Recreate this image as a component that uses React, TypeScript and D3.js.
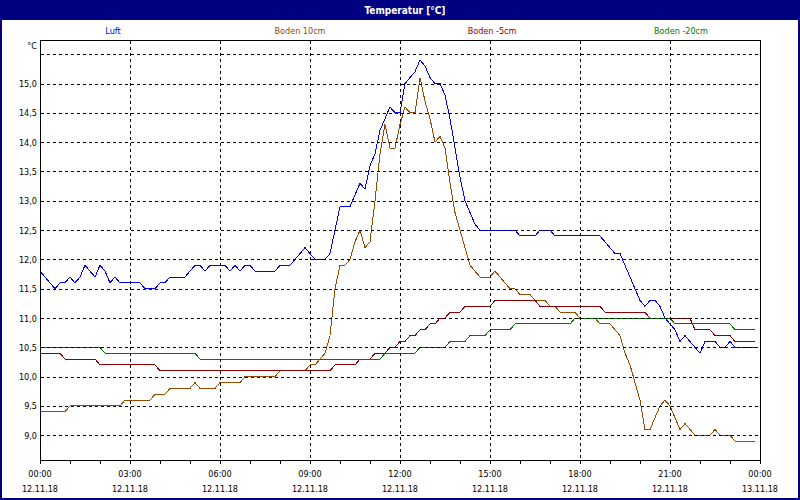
import React, { useEffect } from "react";
import * as d3 from "d3";

// Data: [minutes since 12.11.18 00:00, °C]
const luft: [number, number][] = [
  [0, 11.8], [10, 11.7], [20, 11.6], [30, 11.5], [40, 11.6], [50, 11.6], [60, 11.7], [70, 11.6],
  [80, 11.7], [90, 11.9], [100, 11.8], [110, 11.7], [120, 11.9], [130, 11.8], [140, 11.6], [150, 11.7],
  [160, 11.6], [200, 11.6], [210, 11.5], [230, 11.5], [240, 11.6], [250, 11.6], [260, 11.7], [290, 11.7],
  [300, 11.8], [310, 11.9], [320, 11.9], [330, 11.8], [340, 11.9], [370, 11.9], [380, 11.8], [390, 11.9],
  [400, 11.8], [410, 11.9], [420, 11.9], [430, 11.8], [470, 11.8], [480, 11.9], [500, 11.9], [510, 12.0],
  [520, 12.1], [530, 12.2], [540, 12.1], [550, 12.0], [570, 12.0], [580, 12.1], [590, 12.5], [600, 12.9],
  [620, 12.9], [630, 13.1], [640, 13.3], [650, 13.2], [660, 13.6], [670, 13.8], [680, 14.2], [690, 14.4],
  [700, 14.6], [710, 14.5], [720, 14.5], [730, 15.0], [740, 15.1], [750, 15.2], [760, 15.4], [770, 15.3],
  [780, 15.1], [790, 15.0], [800, 15.0], [810, 14.8], [820, 14.4], [830, 13.9], [840, 13.4], [850, 13.0],
  [860, 12.8], [870, 12.6], [880, 12.5], [950, 12.5], [960, 12.4], [990, 12.4], [1000, 12.5], [1020, 12.5],
  [1030, 12.4], [1120, 12.4], [1130, 12.3], [1140, 12.2], [1150, 12.1], [1160, 12.1], [1170, 11.9], [1180, 11.7],
  [1190, 11.5], [1200, 11.3], [1210, 11.2], [1220, 11.3], [1230, 11.3], [1240, 11.2], [1250, 11.0], [1260, 10.9],
  [1270, 10.8], [1280, 10.6], [1290, 10.7], [1300, 10.6], [1310, 10.5], [1320, 10.4], [1330, 10.6], [1350, 10.6],
  [1360, 10.5], [1370, 10.5], [1380, 10.6], [1390, 10.5], [1430, 10.5],
];

const boden10: [number, number][] = [
  [0, 9.4], [50, 9.4], [60, 9.5], [160, 9.5], [170, 9.6], [220, 9.6], [230, 9.7], [250, 9.7],
  [260, 9.8], [300, 9.8], [310, 9.9], [320, 9.8], [350, 9.8], [360, 9.9], [400, 9.9], [410, 10.0],
  [470, 10.0], [480, 10.1], [530, 10.1], [540, 10.2], [550, 10.2], [560, 10.3], [570, 10.4], [580, 10.7],
  [590, 11.5], [600, 11.9], [610, 11.9], [620, 12.0], [630, 12.3], [640, 12.5], [650, 12.2], [660, 12.3],
  [670, 13.0], [680, 13.8], [690, 14.3], [700, 13.9], [710, 13.9], [720, 14.3], [730, 14.6], [740, 14.5],
  [750, 14.5], [760, 15.1], [770, 14.7], [780, 14.4], [790, 14.0], [800, 14.1], [810, 13.9], [820, 13.3],
  [830, 12.8], [840, 12.5], [850, 12.2], [860, 11.9], [870, 11.8], [880, 11.7], [900, 11.7], [910, 11.8],
  [920, 11.7], [930, 11.6], [940, 11.5], [950, 11.5], [960, 11.4], [980, 11.4], [990, 11.3], [1010, 11.3],
  [1020, 11.2], [1030, 11.2], [1040, 11.1], [1070, 11.1], [1080, 11.0], [1110, 11.0], [1120, 10.9], [1140, 10.9],
  [1150, 10.8], [1160, 10.7], [1170, 10.4], [1180, 10.2], [1190, 9.9], [1200, 9.6], [1210, 9.1], [1220, 9.1],
  [1230, 9.3], [1240, 9.5], [1250, 9.6], [1260, 9.5], [1270, 9.3], [1280, 9.1], [1290, 9.2], [1300, 9.1],
  [1310, 9.0], [1340, 9.0], [1350, 9.1], [1360, 9.0], [1380, 9.0], [1390, 8.9], [1430, 8.9],
];

const bodenMinus5: [number, number][] = [
  [0, 10.4], [40, 10.4], [50, 10.3], [110, 10.3], [120, 10.2], [230, 10.2], [240, 10.1], [580, 10.1],
  [590, 10.2], [630, 10.2], [640, 10.3], [660, 10.3], [670, 10.4], [690, 10.4], [700, 10.5], [710, 10.5],
  [720, 10.6], [730, 10.6], [740, 10.7], [750, 10.7], [760, 10.8], [770, 10.8], [780, 10.9], [790, 10.9],
  [800, 11.0], [810, 11.0], [820, 11.1], [840, 11.1], [850, 11.2], [900, 11.2], [910, 11.3], [990, 11.3],
  [1000, 11.2], [1120, 11.2], [1130, 11.1], [1210, 11.1], [1220, 11.0], [1300, 11.0], [1310, 10.8], [1340, 10.8],
  [1350, 10.7], [1380, 10.7], [1390, 10.6], [1430, 10.6],
];

const bodenMinus20: [number, number][] = [
  [0, 10.5], [120, 10.5], [130, 10.4], [310, 10.4], [320, 10.3], [680, 10.3], [690, 10.4], [750, 10.4],
  [760, 10.5], [810, 10.5], [820, 10.6], [850, 10.6], [860, 10.7], [890, 10.7], [900, 10.8], [940, 10.8],
  [950, 10.9], [1060, 10.9], [1070, 11.0], [1260, 11.0], [1270, 10.9], [1380, 10.9], [1390, 10.8], [1430, 10.8],
];

const seriesNames = ["Luft", "Boden 10cm", "Boden -5cm", "Boden -20cm"];
const seriesColors = ["#0000ff", "#964b00", "#8b0000", "#007800"];
const seriesData = [luft, boden10, bodenMinus5, bodenMinus20];

const yTicks = [9.0, 9.5, 10.0, 10.5, 11.0, 11.5, 12.0, 12.5, 13.0, 13.5, 14.0, 14.5, 15.0];
const yGridExtra = [15.5];
const xTimeLabels = ["00:00", "03:00", "06:00", "09:00", "12:00", "15:00", "18:00", "21:00", "00:00"];
const xDateLabels = ["12.11.18", "12.11.18", "12.11.18", "12.11.18", "12.11.18", "12.11.18", "12.11.18", "12.11.18", "13.11.18"];
const title = "Temperatur [°C]";
const unit = "°C";

const FONT = "'DejaVu Sans Condensed', 'DejaVu Sans', sans-serif";

export default function App() {
  useEffect(() => {
    document.body.style.margin = "0";
  }, []);

  const W = 800, H = 500;
  const L = 40, R = 760, T = 40, B = 460;
  const x = d3.scaleLinear().domain([0, 1440]).range([L, R]);
  const y = d3.scaleLinear().domain([8.579, 15.742]).range([B, T]);
  const line = d3.line<[number, number]>().x(d => x(d[0])).y(d => y(d[1]));
  const snap = (v: number) => Math.round(v) + 0.5;

  const hourTicks = d3.range(0, 1441, 60);
  const majorTicks = d3.range(0, 1441, 180);
  const legendX = [113, 300, 492, 681];

  return (
    <svg width={W} height={H} style={{ position: "absolute", left: 0, top: 0, display: "block" }} fontFamily={FONT}>
      <rect x={0} y={0} width={W} height={H} fill="#ffffff" />
      {/* title bar */}
      <rect x={0} y={0} width={W} height={20} fill="#000080" />
      <text x={405} y={14} textAnchor="middle" fill="#ffffff" fontWeight="bold" fontSize={10}>{title}</text>
      {/* window frame */}
      <rect x={1} y={1} width={W - 2} height={H - 2} fill="none" stroke="#000080" strokeWidth={2} />

      {/* legend */}
      {seriesNames.map((n, i) => (
        <text key={n} x={legendX[i]} y={34} textAnchor="middle" fontSize={9} fill={seriesColors[i]}>{n}</text>
      ))}

      {/* data lines */}
      <g fill="none" strokeWidth={1} shapeRendering="crispEdges">
        {seriesData.map((d, i) => (
          <path key={i} d={line(d) || ""} stroke={seriesColors[i]} />
        ))}
      </g>

      {/* grid (drawn over data) */}
      <g stroke="#000" strokeDasharray="3,3" shapeRendering="crispEdges">
        {[...yTicks, ...yGridExtra].map(v => (
          <line key={"h" + v} x1={L + 1} x2={R} y1={snap(y(v))} y2={snap(y(v))} />
        ))}
        {majorTicks.filter(t => t > 0 && t < 1440).map(t => (
          <line key={"v" + t} x1={snap(x(t))} x2={snap(x(t))} y1={T + 1} y2={B} />
        ))}
      </g>

      {/* frame */}
      <rect x={L + 0.5} y={T + 0.5} width={R - L} height={B - T} fill="none" stroke="#000" shapeRendering="crispEdges" />

      {/* bottom ticks */}
      <g stroke="#000" shapeRendering="crispEdges">
        {hourTicks.map(t => (
          <line key={"t" + t} x1={snap(x(t))} x2={snap(x(t))} y1={B} y2={B + 4} />
        ))}
      </g>

      {/* y labels */}
      <g fontSize={9} fill="#000" textAnchor="end">
        {yTicks.map(v => (
          <text key={"yl" + v} x={37} y={y(v) + 3.5}>{d3.format(".1f")(v).replace(".", ",")}</text>
        ))}
        <text x={37} y={48.5}>{unit}</text>
      </g>

      {/* x labels */}
      <g fontSize={9} fill="#000" textAnchor="middle">
        {majorTicks.map((t, i) => (
          <g key={"xl" + t}>
            <text x={x(t)} y={477}>{xTimeLabels[i]}</text>
            <text x={x(t)} y={492}>{xDateLabels[i]}</text>
          </g>
        ))}
      </g>
    </svg>
  );
}
